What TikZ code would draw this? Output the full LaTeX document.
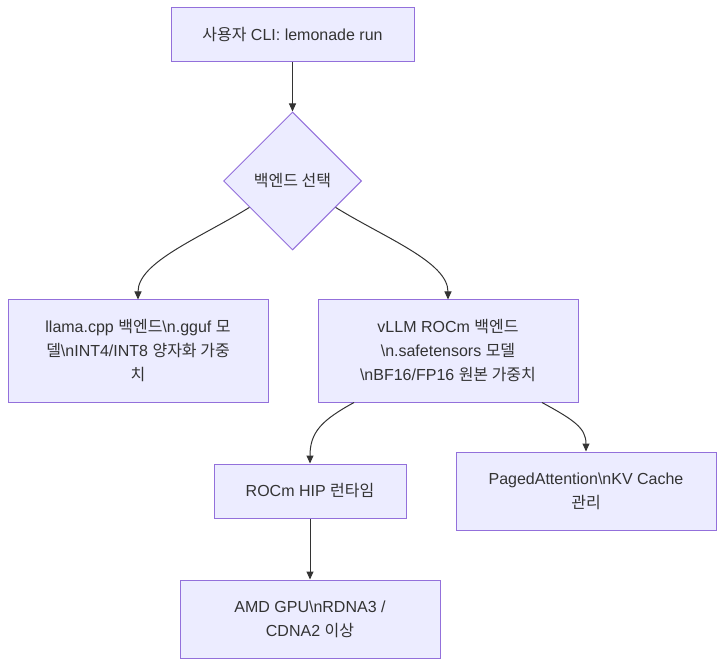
\documentclass[tikz,border=0pt]{standalone}
\usepackage{fontspec}
\setmainfont{Liberation Sans}
\newfontfamily\kofont{Noto Sans CJK KR}
\newcommand{\ko}[1]{{\kofont #1}}
\usetikzlibrary{shapes.geometric,arrows.meta,calc}
\definecolor{nodefill}{HTML}{ECECFF}
\definecolor{nodeline}{HTML}{9370DB}
\definecolor{txt}{HTML}{333333}
\tikzset{
  box/.style={draw=nodeline, fill=nodefill, line width=1pt, text=txt, align=center, inner sep=0pt, font=\fontsize{16}{24}\selectfont},
  decide/.style={diamond, draw=nodeline, fill=nodefill, line width=1pt, text=txt, align=center, inner sep=0pt, minimum width=138pt, minimum height=138pt, font=\fontsize{16}{24}\selectfont},
  link/.style={draw=txt, line width=1pt, -{Triangle[length=8pt,width=7pt]}}
}
\begin{document}
\begin{tikzpicture}[x=1pt,y=-1pt]
\useasboundingbox (0,0) rectangle (724,666);
\node[box, minimum width=243pt, minimum height=54pt] (A) at (292.5,35) {\ko{사용자} CLI: lemonade run};
\node[decide] (S) at (292.5,181) {\ko{백엔드 선택}};
\node[box, minimum width=260pt, minimum height=102pt] (B) at (138,351) {llama.cpp \ko{백엔드}\textbackslash n.gguf \ko{모}\\\ko{델}\textbackslash nINT4/INT8 \ko{양자화 가중}\\\ko{치}};
\node[box, minimum width=260pt, minimum height=102pt] (C) at (448,351) {vLLM ROCm \ko{백엔드}\\\textbackslash n.safetensors \ko{모델}\\\textbackslash nBF16/FP16 \ko{원본 가중치}};
\node[box, minimum width=192pt, minimum height=54pt] (D) at (310,491) {ROCm HIP \ko{런타임}};
\node[box, minimum width=260pt, minimum height=78pt] (E) at (586,491) {PagedAttention\textbackslash nKV Cache\\\ko{관리}};
\node[box, minimum width=260pt, minimum height=78pt] (F) at (310,619) {AMD GPU\textbackslash nRDNA3 /\\CDNA2 \ko{이상}};
\draw[link] (A.south) -- (S.north);
\coordinate (sl) at ($(S.west)!0.38!(S.south)$);
\coordinate (sr) at ($(S.east)!0.38!(S.south)$);
\draw[link] (sl) .. controls (200,238) and (138,262) .. (B.north);
\draw[link] (sr) .. controls (385,238) and (448,262) .. (C.north);
\coordinate (cl) at ($(C.south west)!0.14!(C.south east)$);
\coordinate (cr) at ($(C.south west)!0.86!(C.south east)$);
\draw[link] (cl) .. controls (322,420) and (310,432) .. (D.north);
\draw[link] (cr) .. controls (574,420) and (586,428) .. (E.north);
\draw[link] (D.south) -- (F.north);
\end{tikzpicture}
\end{document}
